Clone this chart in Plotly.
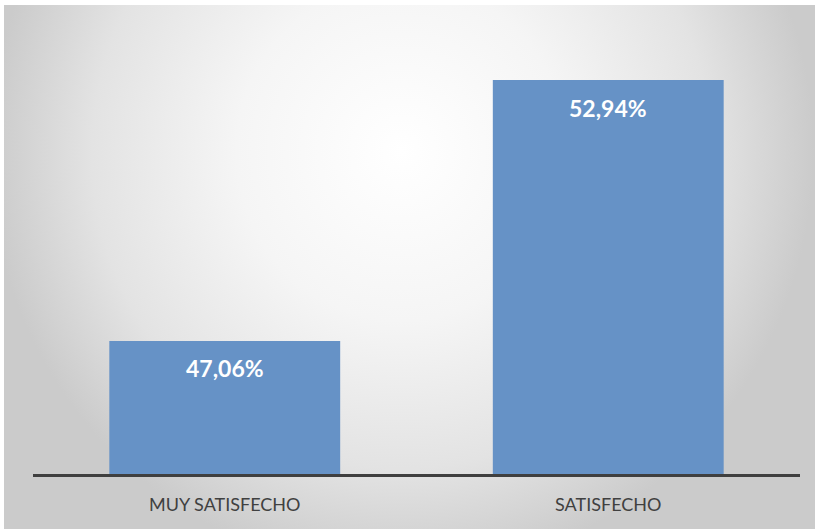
import urllib.parse
import plotly.graph_objects as go

# Survey results: satisfaction level share (%)
categories = ["MUY SATISFECHO", "SATISFECHO"]
values = [47.06, 52.94]
value_labels = ["47,06%", "52,94%"]

BAR_COLOR = "#6692C6"
AXIS_COLOR = "#3F3F3F"

# Soft radial backdrop for the chart area (light centre fading to grey edges)
svg = (
    "<svg xmlns='http://www.w3.org/2000/svg' width='811' height='524' preserveAspectRatio='none'>"
    "<defs><radialGradient id='g' cx='0.49' cy='0.28' r='0.62' gradientUnits='objectBoundingBox' "
    "gradientTransform='translate(0.49,0.28) scale(0.82,1.3) translate(-0.49,-0.28)'>"
    "<stop offset='0' stop-color='#ffffff'/>"
    "<stop offset='0.4' stop-color='#f5f5f5'/>"
    "<stop offset='0.75' stop-color='#e3e3e3'/>"
    "<stop offset='1' stop-color='#cbcbcb'/>"
    "</radialGradient></defs>"
    "<rect width='811' height='524' fill='url(#g)'/></svg>"
)
bg_src = "data:image/svg+xml;charset=utf-8," + urllib.parse.quote(svg)

W, H = 815, 529
ML, MR, MT, MB = 33, 15, 33, 55
plot_w = W - ML - MR
plot_h = H - MT - MB

fig = go.Figure(
    go.Bar(
        x=categories,
        y=values,
        marker=dict(color=BAR_COLOR, line=dict(width=0)),
        hoverinfo="skip",
    )
)

# Value labels inside the top of each bar
for cat, val, lab in zip(categories, values, value_labels):
    fig.add_annotation(
        x=cat, y=val, text=lab, showarrow=False,
        yanchor="middle", yshift=-27.5,
        font=dict(family="Lato", size=23, color="white", weight="bold"),
    )

fig.add_layout_image(
    source=bg_src, xref="paper", yref="paper",
    x=(4 - ML) / plot_w, y=(H - MB - 5) / plot_h,
    sizex=(W - 4) / plot_w, sizey=(H - 5) / plot_h,
    xanchor="left", yanchor="top", sizing="stretch", layer="below",
)

fig.update_layout(
    width=W, height=H,
    margin=dict(l=ML, r=MR, t=MT, b=MB, pad=0),
    paper_bgcolor="white",
    plot_bgcolor="rgba(0,0,0,0)",
    bargap=0.398,
    showlegend=False,
    xaxis=dict(
        showline=True, linecolor=AXIS_COLOR, linewidth=3,
        showgrid=False, ticks="", ticklabelstandoff=12,
        tickfont=dict(family="Lato", size=18, color="#404040"),
        fixedrange=True,
    ),
    yaxis=dict(
        range=[44.06, 54.0], visible=False, showgrid=False,
        zeroline=False, fixedrange=True,
    ),
)

fig.write_html("out.html", config={"displayModeBar": False})
